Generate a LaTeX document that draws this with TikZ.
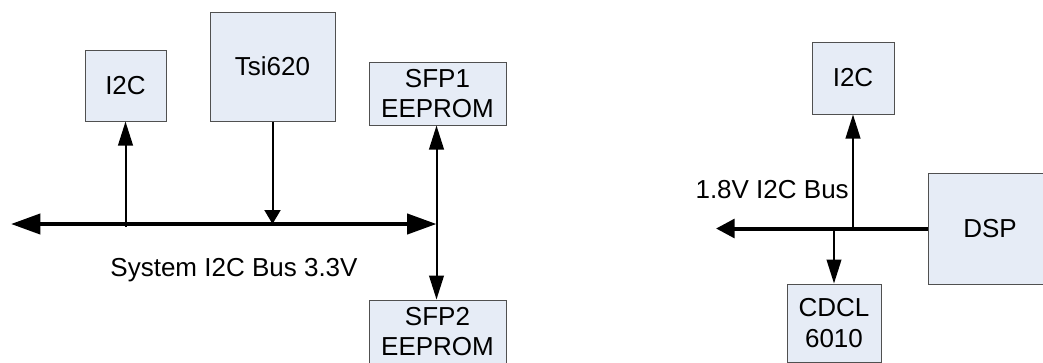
\documentclass[tikz,border=0pt]{standalone}
\usepackage{fontspec}
\setmainfont{Liberation Sans}
\usepackage{tikz}
\usetikzlibrary{arrows.meta}
\definecolor{boxfill}{RGB}{230,236,246}
\definecolor{boxline}{RGB}{80,80,80}
\newcommand{\px}{0.75pt}
\newcommand{\busw}{3pt}
\newcommand{\linkw}{1.5pt}

\begin{document}
\begin{tikzpicture}[x=0.75pt, y=-0.75pt]
            \tikzset{block/.style = {draw=boxline, fill=boxfill, line width=\px, align=center,
                                     inner sep=0pt, font=\fontsize{19.5}{23}\selectfont},
                     buslabel/.style = {font=\fontsize{19.5}{23}\selectfont, inner sep=0pt},
                     bus/.style = {line width=\busw},
                     link/.style = {line width=\linkw},
                     bigtip/.tip = {Triangle[length=22pt, width=15pt]},
                     midtip/.tip = {Triangle[length=14pt, width=14pt]},
                     smalltip/.tip = {Triangle[length=18pt, width=11pt]},
                     shorttip/.tip = {Triangle[length=10.5pt, width=12pt]}}
            \useasboundingbox (0,0) rectangle (1043,362);
            \clip (0,0) rectangle (1043,362);
            % system bus
            \node[block, minimum width=81*\px, minimum height=71*\px] (i2cA) at (125.5,85.5) {I2C};
            \node[block, minimum width=125*\px, minimum height=109*\px] (tsi) at (272.5,66.5) {Tsi620};
            \node[block, minimum width=137*\px, minimum height=63*\px] (sfpA) at (437.5,93.5) {SFP1\\EEPROM};
            \node[block, minimum width=137*\px, minimum height=63*\px] (sfpB) at (437.5,331.5) {SFP2\\EEPROM};
            \coordinate (busL) at (11,224);
            \coordinate (busR) at (436.5,224);
            \node[buslabel, anchor=base] (sysbus) at (234,276) {System I2C Bus 3.3V};

            \draw[bus, bigtip-bigtip] (busL) -- (busR);
            \draw[link, -smalltip] (i2cA.south |- busR) ++(0,3) -- (i2cA.south);
            \draw[link, -shorttip] (tsi.south) -- (tsi.south |- busR);
            \draw[link, smalltip-smalltip] (sfpA.south -| busR) -- (sfpB.north -| busR);

            % dsp bus
            \node[block, minimum width=82*\px, minimum height=72*\px] (i2cB) at (853,78) {I2C};
            \node[block, minimum width=124*\px, minimum height=111*\px] (dsp) at (990,228.5) {DSP};
            \node[block, minimum width=94*\px, minimum height=78*\px] (cdcl) at (834,323) {CDCL\\6010};
            \coordinate (busE) at (716,228.5);
            \node[buslabel, anchor=base east] (dspbus) at (849,198) {1.8V I2C Bus};

            \draw[bus, -midtip] (dsp.west) -- (busE);
            \draw[link, -smalltip] (i2cB.south |- dsp.west) -- (i2cB.south);
            \draw[link, -smalltip] (cdcl.north |- dsp.west) -- (cdcl.north);
\end{tikzpicture}
\end{document}
